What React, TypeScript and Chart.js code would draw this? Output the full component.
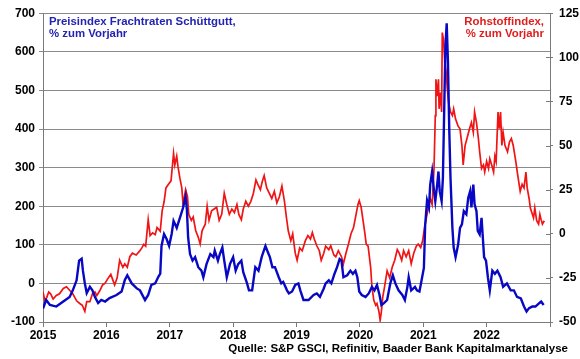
import React, { useEffect, useRef } from "react";
import { Chart, registerables } from "chart.js";

Chart.register(...registerables);

// Preisindex Frachtraten Schüttgutt, % zum Vorjahr (left axis)
const blueYears = [
  2015.00, 2015.05, 2015.11, 2015.21, 2015.32, 2015.42, 2015.47, 2015.53, 2015.57, 2015.61,
  2015.63, 2015.66, 2015.69, 2015.74, 2015.78, 2015.82, 2015.87, 2015.92, 2015.98, 2016.05,
  2016.16, 2016.24, 2016.29, 2016.33, 2016.40, 2016.48, 2016.53, 2016.61, 2016.66, 2016.71,
  2016.77, 2016.82, 2016.85, 2016.87, 2016.91, 2016.95, 2016.99, 2017.03, 2017.06, 2017.11,
  2017.16, 2017.21, 2017.25, 2017.27, 2017.29, 2017.32, 2017.36, 2017.40, 2017.45, 2017.50,
  2017.53, 2017.58, 2017.64, 2017.69, 2017.71, 2017.76, 2017.79, 2017.83, 2017.86, 2017.90,
  2017.95, 2018.00, 2018.04, 2018.08, 2018.13, 2018.16, 2018.22, 2018.25, 2018.30, 2018.35,
  2018.40, 2018.45, 2018.51, 2018.55, 2018.58, 2018.62, 2018.66, 2018.72, 2018.76, 2018.79,
  2018.85, 2018.88, 2018.93, 2018.98, 2019.03, 2019.06, 2019.11, 2019.19, 2019.27, 2019.32,
  2019.37, 2019.43, 2019.46, 2019.51, 2019.55, 2019.60, 2019.64, 2019.68, 2019.71, 2019.74,
  2019.80, 2019.85, 2019.89, 2019.93, 2019.96, 2019.99, 2020.03, 2020.09, 2020.14, 2020.19,
  2020.23, 2020.27, 2020.31, 2020.34, 2020.38, 2020.43, 2020.48, 2020.52, 2020.56, 2020.61,
  2020.67, 2020.71, 2020.75, 2020.77, 2020.81, 2020.87, 2020.90, 2020.94, 2020.97, 2021.01,
  2021.03, 2021.06, 2021.09, 2021.11, 2021.14, 2021.17, 2021.19, 2021.22, 2021.24, 2021.26,
  2021.29, 2021.31, 2021.33, 2021.35, 2021.37, 2021.39, 2021.41, 2021.43, 2021.46, 2021.48,
  2021.51, 2021.55, 2021.58, 2021.61, 2021.64, 2021.68, 2021.71, 2021.74, 2021.76, 2021.79,
  2021.81, 2021.84, 2021.86, 2021.89, 2021.92, 2021.94, 2021.96, 2021.99, 2022.02, 2022.05,
  2022.09, 2022.13, 2022.17, 2022.22, 2022.26, 2022.32, 2022.38, 2022.43, 2022.48, 2022.54,
  2022.59, 2022.63, 2022.67, 2022.72, 2022.77, 2022.83, 2022.86, 2022.90,
];
const blueValues = [
  -65, -43, -56, -60, -47, -35, -18, 8, 59, 64,
  33, 0, -25, -9, -18, -35, -51, -43, -47, -38,
  -30, -21, 8, 21, 0, -13, -18, -43, -30, -4,
  0, 17, 25, 97, 128, 115, 97, 128, 162, 144,
  170, 196, 226, 192, 119, 76, 59, 68, 42, 33,
  16, 50, 76, 68, 85, 59, 76, 93, 59, 16,
  50, 68, 33, 50, 59, 29, 0, -18, -18, 42,
  33, 68, 97, 80, 68, 42, 42, 16, 0, 4,
  -18, -26, -21, -4, 0, -18, -43, -43, -30, -26,
  -35, -13, 0, 8, 0, 25, 42, 63, 59, 16,
  21, 33, 25, 33, 16, -21, -30, -35, -26, -9,
  -18, -4, -30, -56, -51, -43, 0, 21, 0, -18,
  -30, -43, -9, 16, -18, -9, -18, -21, 5, 40,
  150, 215, 197, 256, 290, 239, 213, 256, 290, 239,
  213, 273, 444, 615, 674, 572, 401, 273, 144, 93,
  68, 100, 144, 153, 187, 179, 222, 239, 197, 256,
  205, 187, 136, 127, 170, 119, 68, 59, 16, -18,
  33, 25, 33, 16, -9, 0, -18, -18, -35, -39,
  -60, -73, -64, -60, -60, -51, -47, -56,
];

// Rohstoffindex, % zum Vorjahr (right axis)
const redYears = [
  2015.00, 2015.03, 2015.06, 2015.09, 2015.12, 2015.16, 2015.21, 2015.26, 2015.32, 2015.37,
  2015.42, 2015.47, 2015.53, 2015.58, 2015.62, 2015.66, 2015.69, 2015.74, 2015.78, 2015.82,
  2015.85, 2015.90, 2015.94, 2015.98, 2016.03, 2016.07, 2016.10, 2016.13, 2016.17, 2016.21,
  2016.26, 2016.29, 2016.33, 2016.37, 2016.41, 2016.47, 2016.52, 2016.56, 2016.59, 2016.62,
  2016.66, 2016.69, 2016.73, 2016.77, 2016.80, 2016.85, 2016.88, 2016.91, 2016.94, 2016.98,
  2017.02, 2017.06, 2017.08, 2017.11, 2017.13, 2017.16, 2017.19, 2017.21, 2017.25, 2017.28,
  2017.30, 2017.34, 2017.37, 2017.41, 2017.45, 2017.48, 2017.51, 2017.56, 2017.59, 2017.62,
  2017.66, 2017.70, 2017.74, 2017.78, 2017.82, 2017.86, 2017.90, 2017.94, 2017.98, 2018.02,
  2018.06, 2018.09, 2018.13, 2018.16, 2018.20, 2018.24, 2018.28, 2018.32, 2018.36, 2018.39,
  2018.43, 2018.46, 2018.49, 2018.53, 2018.57, 2018.61, 2018.65, 2018.69, 2018.73, 2018.77,
  2018.81, 2018.84, 2018.87, 2018.91, 2018.94, 2018.98, 2019.01, 2019.05, 2019.09, 2019.14,
  2019.18, 2019.22, 2019.25, 2019.28, 2019.32, 2019.36, 2019.39, 2019.43, 2019.46, 2019.51,
  2019.54, 2019.59, 2019.62, 2019.66, 2019.71, 2019.74, 2019.78, 2019.82, 2019.86, 2019.90,
  2019.94, 2019.97, 2019.99, 2020.02, 2020.05, 2020.08, 2020.10, 2020.13, 2020.17, 2020.19,
  2020.22, 2020.25, 2020.27, 2020.30, 2020.32, 2020.34, 2020.36, 2020.39, 2020.43, 2020.47,
  2020.51, 2020.55, 2020.59, 2020.62, 2020.66, 2020.69, 2020.73, 2020.77, 2020.81, 2020.85,
  2020.89, 2020.92, 2020.96, 2020.99, 2021.02, 2021.06, 2021.09, 2021.11, 2021.14, 2021.17,
  2021.19, 2021.20, 2021.22, 2021.24, 2021.25, 2021.27, 2021.29, 2021.30, 2021.32, 2021.34,
  2021.36, 2021.38, 2021.40, 2021.43, 2021.46, 2021.48, 2021.51, 2021.55, 2021.58, 2021.61,
  2021.63, 2021.66, 2021.69, 2021.73, 2021.76, 2021.79, 2021.81, 2021.84, 2021.87, 2021.89,
  2021.92, 2021.95, 2021.97, 2022.00, 2022.03, 2022.05, 2022.08, 2022.11, 2022.13, 2022.15,
  2022.18, 2022.20, 2022.22, 2022.24, 2022.26, 2022.29, 2022.33, 2022.36, 2022.39, 2022.42,
  2022.46, 2022.49, 2022.53, 2022.56, 2022.59, 2022.62, 2022.64, 2022.67, 2022.69, 2022.74,
  2022.76, 2022.79, 2022.82, 2022.84, 2022.86, 2022.88, 2022.91,
];
const redValues = [
  -33, -38, -36, -33, -34, -37, -35, -34, -31, -30,
  -32, -34, -38, -39.5, -40.5, -44, -38.5, -38.5, -34, -33,
  -35, -32, -29, -28, -25, -23, -26, -29, -25, -15,
  -19, -17, -19, -13, -11, -12, -10, -8, -6, -7,
  8, -1, 0.5, -0.5, 3.5, 1.5, 13, 18, 26, 28,
  30, 45.5, 39, 44, 38, 31.5, 26, 16.6, 25, 21,
  11, 7.6, 9.5, 1.7, -2, -5.8, 1.7, 5.4, 15.6, 7.6,
  13, 14, 15, 7.6, 11, 23, 16.6, 11, 14, 12,
  16.6, 11, 8, 14, 18.4, 15.6, 18.4, 23, 30.5, 28,
  25, 29.6, 33, 26, 23, 20, 24, 17.5, 21, 27,
  18.4, 9.5, 1.7, -3.9, 0, -11, -15, -8, -9.6, -3.9,
  -1, -3, 0.7, -3, -6.8, -9.6, -15, -11, -7, -9,
  -6.8, -12, -13, -9.6, -13, -17, -11, -5.8, 0, 3.5,
  11, 16.6, 18.8, 15, 7.6, 0, -5.8, -7, -19, -30,
  -37.7, -40.5, -39.5, -44, -49, -44, -36, -30, -21, -25,
  -19, -15, -9, -11, -15, -9.6, -13, -9.6, -17, -11,
  -7, -5.8, -7.8, -4, 3.5, 11, 16.6, 20, 16.6, 37,
  67, 87.6, 78, 87.6, 70.8, 80, 69, 114, 110, 97,
  92, 82, 74.5, 69, 67, 70.8, 65, 61, 59.5, 50,
  39, 50, 54, 59.5, 63, 57.5, 69, 63, 54, 46.5,
  37, 39, 35, 41, 37, 42.5, 39, 35, 44, 41,
  69, 59.5, 69, 50, 57.5, 50, 46.5, 52, 54, 50,
  41, 33.4, 24, 28, 26, 35, 26, 20, 14.6, 9,
  14.6, 7.4, 5.5, 11, 8, 5.5, 7.4,
];

const leftTicks = [-100, 0, 100, 200, 300, 400, 500, 600, 700];
const rightTicks = [-50, -25, 0, 25, 50, 75, 100, 125];
const yearTicks = [2015, 2016, 2017, 2018, 2019, 2020, 2021, 2022, 2023];

const blueTitle = ["Preisindex Frachtraten Schüttgutt,", "% zum Vorjahr"];
const redTitle = ["Rohstoffindex,", "% zum Vorjahr"];
const sourceText = "Quelle: S&P GSCI, Refinitiv, Baader Bank Kapitalmarktanalyse";

const FONT = '"Liberation Sans", Arial, sans-serif';
const BLUE = "#0808c4";
const RED = "#f01414";
const GRID = "#8a8a8a";
const AXIS = "#7a7a7a";

const textPlugin = {
  id: "texts",
  afterDraw(chart: any) {
    const ctx = chart.ctx;
    const area = chart.chartArea;
    const y1 = chart.scales.y1;
    ctx.save();
    // right axis cross ticks (inner part)
    ctx.strokeStyle = AXIS;
    ctx.lineWidth = 1;
    y1.ticks.forEach((t: any) => {
      const py = Math.round(y1.getPixelForValue(t.value)) + 0.5;
      ctx.beginPath();
      ctx.moveTo(area.right - 4, py);
      ctx.lineTo(area.right, py);
      ctx.stroke();
    });
    ctx.font = `bold 11.4px ${FONT}`;
    ctx.textBaseline = "alphabetic";
    ctx.fillStyle = "#2323b4";
    ctx.textAlign = "left";
    ctx.fillText(blueTitle[0], area.left + 6, 25);
    ctx.fillText(blueTitle[1], area.left + 6, 37);
    ctx.fillStyle = "#e01e1e";
    ctx.textAlign = "right";
    ctx.fillText(redTitle[0], area.right - 6, 25);
    ctx.fillText(redTitle[1], area.right - 6, 37);
    ctx.fillStyle = "#000";
    ctx.font = `bold 11.5px ${FONT}`;
    ctx.fillText(sourceText, 568, 352);
    ctx.restore();
  },
};

const tickFont = { family: FONT, size: 12, weight: "bold" as const };

export default function App() {
  const ref = useRef<HTMLCanvasElement | null>(null);
  useEffect(() => {
    if (!ref.current) return;
    const chart = new Chart(ref.current, {
      type: "line",
      data: {
        datasets: [
          {
            label: blueTitle.join(" "),
            data: blueYears.map((x, i) => ({ x, y: blueValues[i] })),
            borderColor: BLUE,
            borderWidth: 2.4,
            pointRadius: 0,
            tension: 0,
            yAxisID: "y",
          },
          {
            label: redTitle.join(" "),
            data: redYears.map((x, i) => ({ x, y: redValues[i] })),
            borderColor: RED,
            borderWidth: 1.7,
            pointRadius: 0,
            tension: 0,
            yAxisID: "y1",
          },
        ],
      },
      options: {
        responsive: false,
        maintainAspectRatio: false,
        animation: false,
        layout: { padding: { top: 10, left: 0, right: 0, bottom: 0 } },
        plugins: { legend: { display: false }, tooltip: { enabled: false } },
        scales: {
          x: {
            type: "linear",
            min: yearTicks[0],
            max: yearTicks[yearTicks.length - 1],
            afterFit: (s: any) => { s.height = 37; },
            afterBuildTicks: (s: any) => { s.ticks = yearTicks.map((v) => ({ value: v })); },
            ticks: {
              autoSkip: false,
              maxRotation: 0,
              padding: 1,
              color: "#000",
              font: tickFont,
              callback: (v: any) => (v === yearTicks[yearTicks.length - 1] ? "" : String(v)),
            },
            grid: { drawOnChartArea: false, tickLength: 5, color: AXIS },
            border: { color: AXIS },
          },
          y: {
            position: "left",
            min: leftTicks[0],
            max: leftTicks[leftTicks.length - 1],
            afterFit: (s: any) => { s.width = 43; },
            afterBuildTicks: (s: any) => { s.ticks = leftTicks.map((v) => ({ value: v })); },
            ticks: { color: "#000", font: tickFont, padding: 4, callback: (v: any) => String(v) },
            grid: { color: GRID, tickLength: 4 },
            border: { color: AXIS },
          },
          y1: {
            position: "right",
            min: rightTicks[0],
            max: rightTicks[rightTicks.length - 1],
            afterFit: (s: any) => { s.width = 30; },
            afterBuildTicks: (s: any) => { s.ticks = rightTicks.map((v) => ({ value: v })); },
            ticks: { color: "#000", font: tickFont, padding: 6, callback: (v: any) => String(v) },
            grid: { drawOnChartArea: false, tickLength: 3, color: AXIS },
            border: { color: AXIS },
          },
        },
      },
      plugins: [textPlugin],
    });
    return () => chart.destroy();
  }, []);
  return (
    <div style={{ position: "absolute", left: 0, top: 0, width: 580, height: 359, background: "#fff" }}>
      <canvas ref={ref} width={580} height={359} style={{ width: 580, height: 359 }} />
    </div>
  );
}
